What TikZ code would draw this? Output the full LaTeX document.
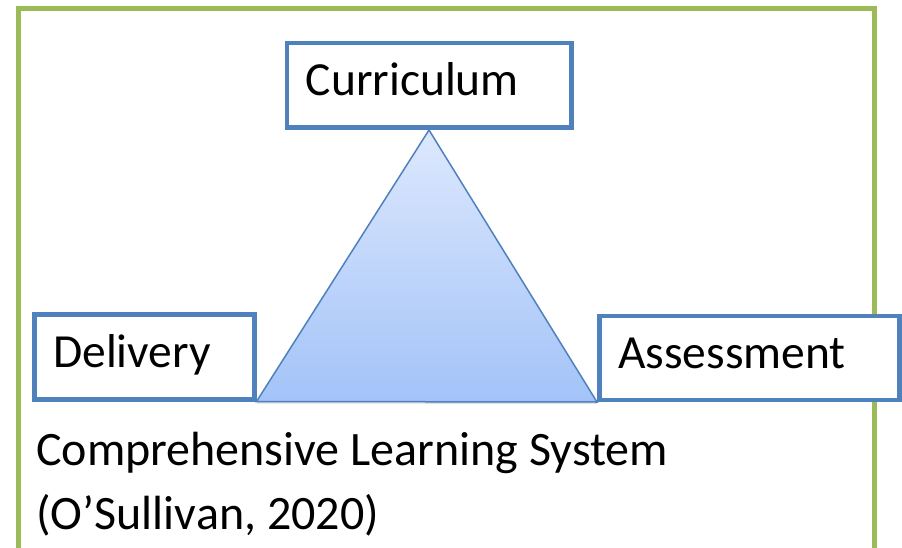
\documentclass[tikz,border=0pt]{standalone}
\usepackage{fontspec}
\setmainfont{Carlito}
\usetikzlibrary{backgrounds,shadows}
\definecolor{framegreen}{HTML}{9BBB59}
\definecolor{boxblue}{HTML}{4F81BD}
\definecolor{tritop}{HTML}{DDE8FD}
\definecolor{tribot}{HTML}{A3C3F8}
\tikzset{
  box/.style={draw=boxblue, line width=4.5pt, fill=white, anchor=north west,
    inner xsep=19pt, inner ysep=0pt, text height=33pt, text depth=12pt,
    align=left, font=\fontsize{47.5}{56}\selectfont},
  frame/.style={draw=framegreen, line width=5pt},
  tri/.style={draw=boxblue, line width=1.5pt, top color=tritop, bottom color=tribot,
    line join=miter},
  caption/.style={anchor=base west, inner sep=0pt, align=left,
    font=\fontsize{48}{64}\selectfont}
}
\begin{document}
\begin{tikzpicture}[x=1pt,y=-1pt]
\useasboundingbox (0,0) rectangle (902,548);
\draw[frame] (18,9) rectangle (874,570);
\node[box, text width=246.5pt, minimum height=84.5pt] (cur) at (284.5,41) {Curriculum};
\node[box, text width=182pt, minimum height=85pt] (del) at (32,312) {Delivery};
\node[box, text width=262pt, minimum height=84pt] (ass) at (597,313.5) {Assessment};
\begin{scope}[on background layer]
  \path[tri, drop shadow={shadow xshift=0pt, shadow yshift=-2pt, opacity=0.25, fill=gray}]
    (cur.south) -- (del.south east) -- (ass.south west) -- cycle;
\end{scope}
\node[caption] (cap) at (36,529) {Comprehensive Learning System\\(O’Sullivan, 2020)};
\end{tikzpicture}
\end{document}
